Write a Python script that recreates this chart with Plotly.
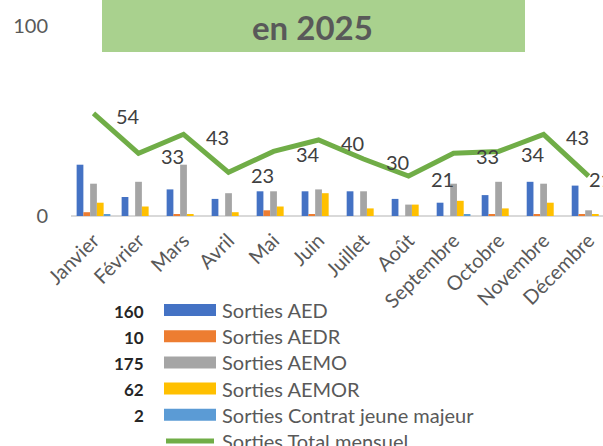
import plotly.graph_objects as go

months = ["Janvier", "Février", "Mars", "Avril", "Mai", "Juin", "Juillet",
          "Août", "Septembre", "Octobre", "Novembre", "Décembre"]
sorties_aed = [27, 10, 14, 9, 13, 13, 13, 9, 7, 11, 18, 16]
sorties_aedr = [2, 0, 1, 0, 3, 1, 0, 0, 0, 1, 1, 1]
sorties_aemo = [17, 18, 27, 12, 13, 14, 13, 6, 17, 18, 17, 3]
sorties_aemor = [7, 5, 1, 2, 5, 12, 4, 6, 8, 4, 7, 1]
sorties_cjm = [1, 0, 0, 0, 0, 0, 0, 0, 1, 0, 0, 0]
total_mensuel = [54, 33, 43, 23, 34, 40, 30, 21, 33, 34, 43, 21]

bar_names = ["Sorties AED", "Sorties AEDR", "Sorties AEMO", "Sorties AEMOR",
             "Sorties Contrat jeune majeur"]
line_name = "Sorties Total mensuel"
bar_series = [sorties_aed, sorties_aedr, sorties_aemo, sorties_aemor, sorties_cjm]
bar_colors = ["#4472C4", "#ED7D31", "#A5A5A5", "#FFC000", "#5B9BD5"]
line_color = "#70AD47"
title_text = "en 2025"

FONT = "Lato"
W, H = 603, 446
ML, MR, MT, MB = 71, 0, 26, 230
PW, PH = W - ML - MR, H - MT - MB


def px_x(p):
    return (p - ML) / PW


def px_y(p):
    return (H - MB - p) / PH


fig = go.Figure()
for name, vals, col in zip(bar_names, bar_series, bar_colors):
    fig.add_trace(go.Bar(x=months, y=vals, name=name, marker_color=col,
                         marker_line_width=0, showlegend=False))

fig.add_trace(go.Scatter(x=months, y=total_mensuel, name=line_name, mode="lines",
                         line=dict(color=line_color, width=5),
                         showlegend=False))

annotations = []
n = len(months)
for i, (m, v) in enumerate(zip(months, total_mensuel)):
    # last label is pushed back toward the point (kept inside the chart area)
    xs = 34 if i < n - 1 else 12
    annotations.append(dict(x=m, y=v, xref="x", yref="y", text=str(v),
                            xanchor="center", yanchor="middle",
                            showarrow=False, xshift=xs, yshift=-3,
                            font=dict(family=FONT, size=20, color="#404040")))

shapes = []
# title box
shapes.append(dict(type="rect", xref="paper", yref="paper",
                   x0=px_x(102), x1=px_x(525), y0=px_y(52), y1=px_y(-2),
                   fillcolor="#A9D18E", line=dict(width=0), layer="above"))
annotations.append(dict(xref="paper", yref="paper", x=px_x(312.5), y=px_y(27),
                        xanchor="center", yanchor="middle",
                        text="<b>%s</b>" % title_text, showarrow=False,
                        font=dict(family=FONT, size=33, color="#595959")))

# manual legend
row_y0, row_dy = 310, 26.2
for i, (name, vals, col) in enumerate(zip(bar_names, bar_series, bar_colors)):
    cy = row_y0 + i * row_dy
    shapes.append(dict(type="rect", xref="paper", yref="paper",
                       x0=px_x(164), x1=px_x(216), y0=px_y(cy + 6), y1=px_y(cy - 6),
                       fillcolor=col, line=dict(width=0)))
    annotations.append(dict(xref="paper", yref="paper", x=px_x(220), y=px_y(cy),
                            xanchor="left", yanchor="middle", text=name,
                            showarrow=False,
                            font=dict(family=FONT, size=20, color="#595959")))
    annotations.append(dict(xref="paper", yref="paper", x=px_x(146), y=px_y(cy + 1),
                            xanchor="right", yanchor="middle",
                            text="<b>%d</b>" % sum(vals), showarrow=False,
                            font=dict(family=FONT, size=17, color="#262626")))
cy = row_y0 + 5 * row_dy
shapes.append(dict(type="line", xref="paper", yref="paper",
                   x0=px_x(166), x1=px_x(214), y0=px_y(cy), y1=px_y(cy),
                   line=dict(color=line_color, width=5)))
annotations.append(dict(xref="paper", yref="paper", x=px_x(220), y=px_y(cy),
                        xanchor="left", yanchor="middle", text=line_name,
                        showarrow=False,
                        font=dict(family=FONT, size=20, color="#595959")))

fig.update_layout(
    width=W, height=H,
    margin=dict(l=ML, r=MR, t=MT, b=MB, pad=0, autoexpand=False),
    paper_bgcolor="white", plot_bgcolor="white",
    barmode="group", bargap=0.25, bargroupgap=0,
    showlegend=False,
    font=dict(family=FONT, color="#595959"),
    annotations=annotations, shapes=shapes,
    xaxis=dict(type="category", range=[-0.5, 11.32], showgrid=False,
               automargin=False,
               showline=False, zeroline=False, ticks="", tickangle=-45,
               ticklabelstandoff=8,
               tickfont=dict(family=FONT, size=20, color="#595959")),
    yaxis=dict(range=[0, 100], tickvals=[0, 100], showgrid=True,
               automargin=False,
               gridcolor="#D9D9D9", gridwidth=1.3, zeroline=True,
               zerolinecolor="#D9D9D9", zerolinewidth=2, showline=False,
               ticks="", ticklabelstandoff=22,
               tickfont=dict(family=FONT, size=20, color="#595959")),
)

fig.write_html("out.html",
               config={"displayModeBar": False},
               post_script="document.body.style.margin='0';"
                           "document.body.style.overflow='hidden';")
